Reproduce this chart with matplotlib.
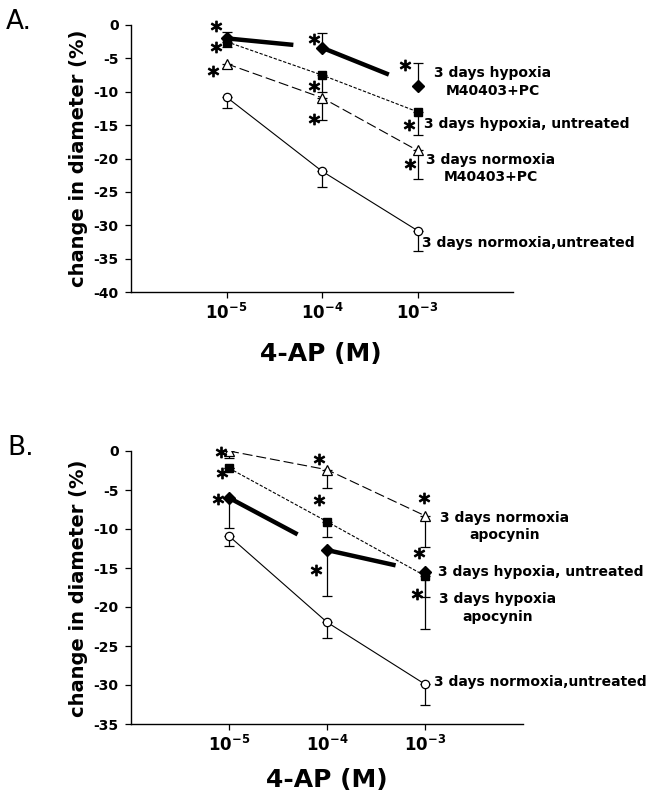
import matplotlib
matplotlib.use('Agg')
import matplotlib.pyplot as plt
from matplotlib.transforms import ScaledTranslation
import numpy as np

plt.rcParams['font.family'] = ['DejaVu Sans']
plt.rcParams['axes.unicode_minus'] = False

# ---------------- data ----------------
conc = [1e-5, 1e-4, 1e-3]
conc_labels = [r'$\mathbf{10^{-5}}$', r'$\mathbf{10^{-4}}$', r'$\mathbf{10^{-3}}$']

# Panel A
a_hyp_m40 = [-2.0, -3.4, -9.15]
a_hyp_m40_err = [1.0, 2.15, 3.5]          # upward
a_hyp_unt = [-2.5, -7.5, -13.0]
a_hyp_unt_err = [0.8, 2.5, 3.5]           # downward
a_norm_m40 = [-5.8, -10.9, -18.8]
a_norm_m40_err = [0.7, 3.3, 4.2]          # downward
a_norm_unt = [-10.8, -21.9, -30.8]
a_norm_unt_err = [1.6, 2.3, 3.0]          # downward

# Panel B
b_norm_apo = [0.0, -2.4, -8.3]
b_norm_apo_err = [0.85, 2.3, 3.95]
b_hyp_unt = [-2.2, -9.05, -16.0]
b_hyp_unt_err = [0.0, 1.95, 2.7]
b_hyp_apo = [-6.0, -12.7, -15.5]
b_hyp_apo_err = [3.9, 5.9, 7.35]
b_norm_unt = [-10.9, -21.95, -29.9]
b_norm_unt_err = [1.3, 2.0, 2.7]

a_labels = ['3 days hypoxia\nM40403+PC', '3 days hypoxia, untreated',
            '3 days normoxia\nM40403+PC', '3 days normoxia,untreated']
b_labels = ['3 days normoxia\napocynin', '3 days hypoxia, untreated',
            '3 days hypoxia\napocynin', '3 days normoxia,untreated']

yticks_a = [0, -5, -10, -15, -20, -25, -30, -35, -40]
yticks_b = [0, -5, -10, -15, -20, -25, -30, -35]

# ---------------- styles ----------------
STY = {
    'diamond': dict(marker='D', ms=6.5, mfc='black', mec='black'),
    'square': dict(marker='s', ms=6, mfc='black', mec='black'),
    'triangle': dict(marker='^', ms=7, mfc='white', mec='black', mew=0.9),
    'circle': dict(marker='o', ms=6, mfc='white', mec='black', mew=0.9),
}
LINE = {
    'square': dict(ls=(0, (3, 1.5)), lw=0.8),
    'triangle': dict(ls=(0, (9, 3.5)), lw=0.8),
    'circle': dict(ls='-', lw=0.8),
}

fig = plt.figure(figsize=(6.6, 8.1), dpi=100)
W, H = 660, 810


def draw_series(ax, y, err, kind, up=False):
    x = np.array(conc)
    y = np.array(y)
    if kind == 'diamond':
        # thick, broken line segments
        lx = np.log10(x)
        for i in range(len(x) - 1):
            f = 0.7
            xe = 10 ** (lx[i] + f * (lx[i + 1] - lx[i]))
            ye = y[i] + f * (y[i + 1] - y[i])
            ax.plot([x[i], xe], [y[i], ye], color='black', lw=3.2,
                    solid_capstyle='butt', zorder=3)
    else:
        ax.plot(x, y, color='black', zorder=2, **LINE[kind])
    e = np.array(err)
    yerr = [np.zeros_like(e), e] if up else [e, np.zeros_like(e)]
    ax.errorbar(x, y, yerr=yerr, fmt='none', ecolor='black', elinewidth=0.9,
                capsize=3.5, capthick=0.9, zorder=3)
    ax.plot(x, y, ls='none', zorder=4, **STY[kind])


def star(ax, x, y, dx, dy):
    tr = ax.transData + ScaledTranslation(dx / 100, dy / 100, fig.dpi_scale_trans)
    ax.plot([x], [y], ls='none', marker='$*$', ms=7.5, color='black',
            transform=tr, zorder=5, clip_on=False)


def label(ax, x, y, dx, dy, text, ha):
    ax.annotate(text, xy=(x, y), xytext=(dx, dy), textcoords='offset pixels',
                ha=ha, va='center', fontsize=10, fontweight='bold',
                multialignment='center', linespacing=1.3)


def setup(ax, ymin, yticks):
    ax.set_xscale('log')
    ax.set_xlim(1e-6, 1e-2)
    ax.set_ylim(ymin, 0)
    ax.set_xticks(conc)
    ax.set_xticklabels(conc_labels, fontsize=12)
    ax.minorticks_off()
    ax.set_yticks(yticks)
    ax.set_yticklabels([str(t) for t in yticks], fontsize=10, fontweight='bold')
    for s in ['top', 'right']:
        ax.spines[s].set_visible(False)
    for s in ['left', 'bottom']:
        ax.spines[s].set_linewidth(1.0)
    ax.tick_params(direction='out', length=4, width=0.9, pad=5)
    ax.tick_params(axis='x', pad=4)


# ---------------- Panel A ----------------
axA = fig.add_axes([131 / W, 1 - 292 / H, (513 - 131) / W, (292 - 25) / H])
setup(axA, -40, yticks_a)
draw_series(axA, a_norm_unt, a_norm_unt_err, 'circle')
draw_series(axA, a_norm_m40, a_norm_m40_err, 'triangle')
draw_series(axA, a_hyp_unt, a_hyp_unt_err, 'square')
draw_series(axA, a_hyp_m40, a_hyp_m40_err, 'diamond', up=True)

# asterisks (anchored to points)
star(axA, conc[0], a_hyp_m40[0], -11, 12)
star(axA, conc[0], a_hyp_unt[0], -11, -5)
star(axA, conc[0], a_norm_m40[0], -14, -7)
star(axA, conc[1], a_hyp_m40[1], -8, 9)
star(axA, conc[1], a_hyp_unt[1], -8, -11)
star(axA, conc[1], a_norm_m40[1], -8, -21)
star(axA, conc[2], a_hyp_m40[2], -13, 21)
star(axA, conc[2], a_hyp_unt[2], -9, -13)
star(axA, conc[2], a_norm_m40[2], -8, -14)

label(axA, conc[2], a_hyp_m40[2], 75, 4, a_labels[0], 'center')
label(axA, conc[2], a_hyp_unt[2], 6, -12, a_labels[1], 'left')
label(axA, conc[2], a_norm_m40[2], 73, -18, a_labels[2], 'center')
label(axA, conc[2], a_norm_unt[2], 5, -12, a_labels[3], 'left')

# ---------------- Panel B ----------------
axB = fig.add_axes([131 / W, 1 - 724 / H, (523 - 131) / W, (724 - 451) / H])
setup(axB, -35, yticks_b)
draw_series(axB, b_norm_unt, b_norm_unt_err, 'circle')
draw_series(axB, b_norm_apo, b_norm_apo_err, 'triangle')
draw_series(axB, b_hyp_unt, b_hyp_unt_err, 'square')
draw_series(axB, b_hyp_apo, b_hyp_apo_err, 'diamond')

star(axB, conc[0], b_norm_apo[0], -8, -1)
star(axB, conc[0], b_hyp_unt[0], -7, -5)
star(axB, conc[0], b_hyp_apo[0], -11, -1)
star(axB, conc[1], b_norm_apo[1], -8, 11)
star(axB, conc[1], b_hyp_unt[1], -8, 22)
star(axB, conc[1], b_hyp_apo[1], -11, -20)
star(axB, conc[2], b_norm_apo[2], -1, 18)
star(axB, conc[2], b_hyp_unt[2], -6, 23)
star(axB, conc[2], b_hyp_apo[2], -8, -22)

label(axB, conc[2], b_norm_apo[2], 80, -11, b_labels[0], 'center')
label(axB, conc[2], b_hyp_unt[2], 13, 4, b_labels[1], 'left')
label(axB, conc[2], b_hyp_apo[2], 73, -36, b_labels[2], 'center')
label(axB, conc[2], b_norm_unt[2], 9, 2, b_labels[3], 'left')

# ---------------- figure texts ----------------
fig.text(78 / W, 1 - 158 / H, 'change in diameter (%)', rotation=90,
         ha='center', va='center', fontsize=14, fontweight='bold')
fig.text(78 / W, 1 - 588 / H, 'change in diameter (%)', rotation=90,
         ha='center', va='center', fontsize=14, fontweight='bold')
fig.text(321 / W, 1 - 354 / H, '4-AP (M)', ha='center', va='center',
         fontsize=18, fontweight='bold')
fig.text(327 / W, 1 - 780 / H, '4-AP (M)', ha='center', va='center',
         fontsize=18, fontweight='bold')
fig.text(6 / W, 1 - 22 / H, 'A.', ha='left', va='center', fontsize=19)
fig.text(7 / W, 1 - 448 / H, 'B.', ha='left', va='center', fontsize=19)

fig.savefig('out.png', dpi=100)
